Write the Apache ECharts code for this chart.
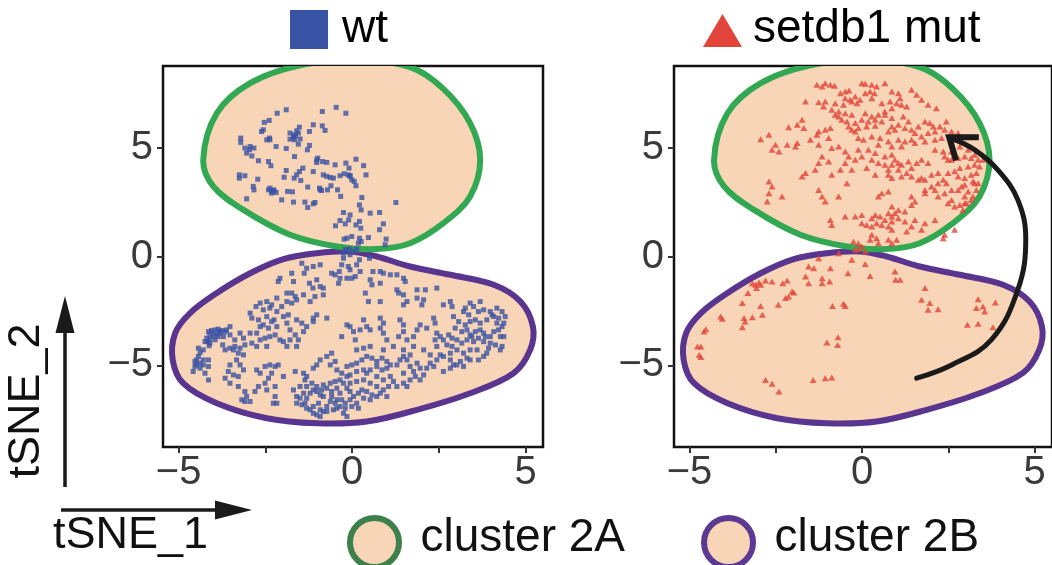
<!DOCTYPE html>
<html><head><meta charset="utf-8">
<script src="https://cdn.jsdelivr.net/npm/echarts@6/dist/echarts.min.js"></script>
<style>html,body{margin:0;padding:0;background:#fff}#c{width:1052px;height:565px}</style>
</head><body><div id="c"></div>
<script>
// ---------- data ----------
const xTickValues = [-5, -2.5, 0, 2.5, 5];
const xLabelValues = [-5, 0, 5];
const yTickValues = [-5, 0, 5];
const panelTitles = ['wt', 'setdb1 mut'];
const clusterNames = ['cluster 2A', 'cluster 2B'];
const axisNames = ['tSNE_1', 'tSNE_2'];

const cluster2A = [[-4.29,4.44],[-3.9,6.58],[-2.94,7.96],[-1.5,8.78],[0.13,9.0],[1.67,8.7],[2.63,7.7],[3.4,6.13],[3.69,4.44],[3.4,2.76],[2.63,1.53],[1.67,0.61],[0.71,0.34],[-0.44,0.46],[-1.79,1.0],[-3.13,2.14],[-4.0,3.22]];
const cluster2B = [[-1.02,0.15],[-0.06,0.23],[0.71,0.0],[1.67,-0.46],[2.83,-0.84],[4.08,-1.3],[4.85,-2.07],[5.21,-3.22],[5.13,-4.29],[4.65,-5.36],[3.4,-6.28],[1.87,-7.04],[0.42,-7.58],[-1.02,-7.66],[-2.46,-7.43],[-3.9,-6.74],[-4.87,-5.82],[-5.17,-4.75],[-5.1,-3.52],[-4.67,-2.6],[-3.9,-1.68],[-2.94,-0.77],[-1.98,-0.12]];

const wtPoints = [
[-0.46,6.85],[-0.18,6.58],[-0.86,6.66],[-1.90,6.74],[-2.16,6.58],[-2.39,6.25],[-2.53,6.16],[-2.61,5.74],[-2.46,5.36],[-2.38,5.44],[-3.21,5.44],[-3.21,5.24],[-2.96,4.90],[-3.04,4.75],[-2.89,4.62],[-2.83,4.98],[-1.52,5.94],[-1.60,5.77],[-1.69,5.59],[-1.79,5.39],[-1.66,5.36],[-1.55,5.16],[-1.50,5.40],[-1.23,5.74],[-1.12,6.05],[-0.86,6.00],[-0.78,5.79],[-2.19,5.05],[-1.90,4.96],[-1.29,4.90],[-1.23,5.10],[-1.66,4.59],[-2.70,4.40],[-2.41,4.36],[-2.34,4.17],[-3.25,3.75],[-3.25,3.60],[-3.09,3.71],[-2.72,3.55],[-0.99,4.52],[-1.02,4.32],[-0.85,4.36],[-0.73,4.32],[-0.49,4.21],[-0.18,4.29],[-0.09,4.06],[0.11,4.47],[0.33,4.17],[0.40,3.75],[-1.90,3.95],[-1.96,3.64],[-1.67,3.60],[-1.60,3.75],[-1.52,3.90],[-1.42,4.06],[-1.48,3.49],[-1.12,3.90],[-0.83,3.75],[-0.73,3.68],[-0.63,3.63],[-0.54,3.60],[-0.35,3.71],[-0.23,3.80],[-0.06,3.71],[-0.01,3.52],[0.06,3.45],[0.11,3.25],[-2.85,3.22],[-2.83,3.06],[-2.37,3.14],[-2.27,3.06],[-2.19,2.94],[-2.32,2.99],[-1.86,2.99],[-1.72,2.97],[-2.03,2.60],[-1.69,2.50],[-3.04,2.65],[-1.28,3.19],[-0.94,3.14],[-0.88,3.03],[-0.71,3.06],[-0.61,3.25],[-0.42,3.06],[-0.33,2.76],[0.28,2.71],[-1.36,2.50],[-1.28,2.25],[-1.12,2.42],[-1.07,2.48],[0.21,2.37],[0.26,2.14],[0.52,1.99],[0.79,2.02],[1.26,2.48],[-0.25,2.02],[-0.06,1.91],[-0.10,1.68],[-0.35,1.65],[-0.48,1.41],[-0.20,1.50],[0.11,1.45],[0.21,1.61],[0.25,1.30],[0.90,1.50],[0.79,1.23],[-0.01,0.92],[-0.15,0.84],[-0.23,0.80],[0.21,0.84],[0.26,0.69],[0.18,0.61],[0.47,0.87],[0.98,0.80],[0.95,0.54],[-0.20,0.31],[-0.06,0.35],[0.04,0.23],[0.13,0.34],[-0.25,0.15],
[-2.56,5.82],[-2.94,5.05],[-3.09,4.98],[-2.37,5.36],[-1.79,5.67],[-1.69,5.48],[-1.63,5.54],[-1.55,5.67],[-2.41,3.06],[-2.32,2.91],[-2.25,3.03],[-1.02,4.44],[-0.92,3.06],[-0.06,3.68],[-0.11,3.75],
[-0.15,0.31],[-0.06,0.08],[-0.25,-0.08],[0.21,-0.15],[0.13,-0.38],[-0.30,-0.38],[-0.11,-0.46],[-0.06,-0.61],[-0.37,-0.69],[0.50,-0.08],[0.23,-0.69],
[-1.45,-0.31],[-1.31,-0.54],[-0.92,-0.38],[-1.12,-0.46],[-1.38,-0.77],[-1.74,-0.77],[-2.08,-1.00],[-2.13,-1.15],[-1.69,-1.15],[-1.23,-1.23],[-1.02,-1.07],[-0.59,-0.77],[-0.49,-0.84],[-0.35,-1.00],[-0.15,-1.00],[-0.01,-1.00],[-0.39,-1.23],[0.09,-0.92],[0.60,-0.69],[0.81,-0.69],[0.90,-0.77],[1.10,-0.84],[1.29,-0.84],[1.48,-1.00],[1.53,-1.15],[0.52,-1.07],[0.57,-1.30],[0.81,-1.23],
[-1.88,-1.68],[-1.74,-1.68],[-1.64,-1.84],[-1.40,-1.76],[-1.13,-1.45],[-0.92,-1.38],[-0.83,-1.45],[-0.83,-1.76],[-1.07,-1.84],[-1.21,-2.07],[-2.17,-1.91],[-1.88,-2.07],[-1.74,-2.14],[-1.60,-1.99],
[0.38,-1.68],[0.47,-2.07],[0.81,-2.07],[1.29,-1.53],[1.34,-1.68],[1.48,-1.76],[1.87,-1.53],[2.11,-1.53],[2.44,-1.45],[1.87,-1.91],[2.06,-1.99],[2.01,-2.22],[1.58,-2.07],[1.48,-2.22],
[2.83,-2.07],[2.88,-2.30],[2.63,-2.22],[3.40,-2.14],[3.69,-2.07],[3.50,-2.30],[3.26,-2.37],[3.21,-2.53],[3.36,-2.68],[3.64,-2.53],[3.79,-2.45],[3.98,-2.53],[4.17,-2.37],[4.32,-2.53],[4.41,-2.76],[4.08,-2.76],[4.17,-3.06],[4.32,-3.22],
[-2.77,-2.30],[-2.56,-2.45],[-2.37,-2.37],[-2.17,-2.53],[-2.03,-2.30],[-2.94,-2.60],[-2.89,-2.83],[-2.70,-2.91],[-2.56,-3.14],[-2.46,-2.76],[-2.25,-2.91],[-2.17,-3.22],[-1.98,-2.76],[-1.84,-2.68],[-1.88,-3.06],[-1.60,-2.91],[-1.45,-3.06],[-1.31,-3.22],[-1.40,-3.45],[-1.12,-2.83],[-1.02,-2.68],[-0.73,-2.83],[-1.12,-2.99],
[-2.65,-2.14],[-2.46,-2.07],[-2.32,-2.22],[-2.65,-3.22],[-2.41,-3.29],[-2.32,-2.99],[-1.79,-3.37],[-1.64,-3.60],[-1.55,-3.83],[-1.79,-3.83],[-1.60,-4.13],
[-3.52,-3.22],[-3.62,-3.37],[-3.81,-3.45],[-4.00,-3.52],[-4.10,-3.60],[-4.19,-3.75],[-4.24,-3.91],[-4.10,-3.98],[-3.95,-3.83],[-3.86,-3.68],[-3.71,-3.68],[-3.52,-3.60],[-3.38,-3.83],[-3.23,-3.52],[-3.13,-3.75],[-2.94,-3.52],[-2.75,-3.52],[-2.65,-3.83],[-2.51,-3.75],[-2.37,-3.68],[-2.22,-3.60],[-2.08,-3.83],[-1.98,-3.91],[-1.88,-4.13],[-2.46,-4.13],[-2.75,-4.13],[-2.89,-3.98],[-3.09,-4.06],[-3.23,-4.21],[-3.38,-4.13],[-3.52,-4.21],[-3.66,-4.29],[-3.73,-4.06],[-4.43,-4.21],
[-4.14,-3.45],[-4.05,-3.40],[-3.95,-3.37],[-3.86,-3.34],[-3.76,-3.40],[-3.66,-3.46],[-3.90,-3.57],[-3.81,-3.52],[-4.00,-3.68],[-4.10,-3.80],[-4.17,-3.91],[-4.12,-4.10],[-4.29,-4.29],[-4.38,-4.41],[-4.43,-4.59],[-4.53,-4.82],[-4.48,-4.98],[-4.38,-4.90],[-4.29,-4.98],
[-0.15,-3.14],[-0.06,-3.22],[0.33,-2.91],[0.23,-3.37],[0.04,-3.45],[-0.30,-3.68],[0.42,-3.22],[0.52,-3.37],[0.09,-3.83],[0.81,-2.83],[0.90,-3.06],[0.81,-3.29],[0.90,-3.52],[1.00,-3.83],[1.38,-2.91],[1.48,-3.14],[1.48,-3.45],[1.34,-3.68],[1.58,-3.83],[1.77,-3.68],[1.87,-3.37],[1.96,-3.14],[2.15,-3.29],[2.35,-2.83],[2.39,-3.06],
[2.44,-3.52],[2.39,-3.83],[2.54,-3.68],[2.63,-3.83],[2.78,-3.60],[2.88,-3.75],[2.73,-4.06],[2.88,-4.13],[3.02,-3.83],[3.16,-3.98],[3.31,-3.83],[3.40,-3.60],[3.55,-3.45],[3.69,-3.37],[3.79,-3.52],[3.98,-3.68],[4.27,-3.68],[4.37,-3.68],[3.50,-3.91],[3.79,-3.91],[3.98,-3.98],[4.32,-4.13],[2.44,-4.13],[2.54,-4.52],[2.83,-4.44],[3.02,-4.29],[3.21,-4.44],[3.40,-4.29],[3.60,-4.29],[3.88,-4.44],[3.31,-4.67],
[2.92,-2.76],[3.07,-2.99],[3.26,-3.14],[3.40,-2.99],[3.55,-2.91],[3.69,-3.06],[3.88,-2.91],[4.03,-2.68],[4.22,-2.83],[4.37,-3.06],[2.97,-3.29],[3.16,-3.45],[3.31,-3.37],[3.45,-3.68],[3.64,-3.75],[3.84,-3.68],[4.08,-3.45],[4.22,-3.37],[3.93,-4.21],[4.13,-4.06],[4.27,-4.29],[3.12,-4.82],[2.92,-4.98],[3.21,-5.05],[3.40,-4.75],[3.64,-4.75],[3.79,-4.59],
[0.13,-4.29],[0.33,-4.21],[0.52,-4.13],[0.90,-4.29],[1.19,-4.13],[1.48,-4.29],[1.77,-4.13],[2.06,-4.29],[2.25,-4.52],[2.44,-4.75],[2.63,-4.59],[2.25,-4.90],[0.42,-5.36],[0.71,-5.51],[1.48,-5.36],[1.77,-5.28],
[-4.48,-4.75],[-4.53,-5.05],[-4.58,-5.28],[-4.38,-5.13],[-4.29,-4.75],[-4.14,-4.75],[-4.14,-5.05],[-4.24,-5.36],[-4.14,-5.67],
[-3.42,-4.29],[-3.28,-4.44],[-3.13,-4.52],[-3.33,-4.75],[-3.23,-4.98],[-3.13,-5.21],[-3.52,-4.98],[-3.57,-5.28],[-3.42,-5.44],[-3.28,-5.51],[-3.66,-5.59],[-3.52,-5.82],[-3.28,-5.97],[-3.09,-6.20],[-3.04,-6.43],[-3.18,-6.58],[-3.09,-6.66],[-2.94,-6.66],
[-2.75,-5.21],[-2.65,-5.36],[-2.51,-5.05],[-2.37,-4.98],[-2.22,-5.05],[-2.13,-4.98],[-2.32,-5.36],[-2.41,-5.59],[-2.51,-5.82],[-2.70,-5.97],[-2.80,-6.20],[-2.46,-6.13],[-2.22,-5.97],[-2.22,-6.43],[-2.27,-6.74],[-2.17,-6.74],[-1.98,-5.51],
[-1.64,-5.28],[-1.40,-5.36],[-1.31,-5.51],[-1.36,-5.67],[-1.12,-5.13],[-1.02,-4.98],[-0.92,-4.75],[-0.73,-4.59],[-0.59,-4.44],[-0.63,-4.98],[-0.49,-4.82],[-0.44,-5.21],[-0.30,-5.36],[-0.15,-5.05],[-0.01,-4.98],[0.13,-4.90],[0.28,-4.75],[0.42,-4.59],[0.57,-4.67],[0.71,-4.82],[0.86,-4.67],[1.00,-4.82],[1.10,-4.98],[1.00,-5.13],[0.86,-5.21],[0.71,-5.05],[0.52,-5.21],[0.33,-5.21],[0.13,-5.28],[-0.06,-5.44],[-0.15,-5.51],
[1.29,-4.98],[1.38,-4.75],[1.48,-4.59],[1.67,-4.52],[1.58,-4.75],[1.67,-5.05],[1.87,-4.90],[1.96,-5.13],[2.15,-5.13],[2.35,-5.05],[2.63,-5.28],[2.83,-5.13],[3.02,-4.98],[2.83,-4.75],
[1.10,-5.51],[0.90,-5.67],[1.19,-5.74],[1.05,-5.97],[1.29,-5.97],[1.48,-5.82],[1.58,-5.97],[1.67,-5.67],[1.82,-5.51],[1.96,-5.67],[2.06,-5.44],
[-1.69,-6.13],[-1.60,-6.43],[-1.40,-6.28],[-1.31,-6.51],[-1.21,-6.28],[-1.12,-6.13],[-1.02,-5.97],[-0.83,-5.90],[-0.63,-5.82],[-0.49,-5.74],[-0.35,-5.67],[-0.25,-5.82],[-0.15,-6.05],[-0.06,-6.20],[0.04,-6.43],[0.18,-6.28],[0.28,-6.13],[0.42,-6.20],[0.57,-6.36],[0.71,-6.43],[0.81,-6.28],[0.33,-6.51],[0.13,-6.74],[-0.06,-6.58],[-0.20,-6.74],[-0.30,-6.58],
[-1.50,-5.97],[-1.31,-5.97],[-1.16,-5.82],[-1.02,-6.20],[-0.88,-6.13],[-0.73,-6.05],[-0.59,-6.20],[-0.44,-6.05],[-0.35,-6.28],[-0.59,-6.43],[-0.44,-6.58],[-0.35,-6.89],[-0.73,-7.12],[-0.92,-7.04],[-1.12,-6.89],[-1.36,-6.74],[-1.50,-6.51],[-0.06,-5.82],[0.13,-5.74],[0.33,-5.67],[0.52,-5.82],[0.71,-5.97],[0.90,-6.13],[1.00,-6.43],[0.52,-6.58],[0.18,-6.97],[-0.01,-6.89],[-0.15,-7.35],
[-1.60,-6.74],[-1.45,-6.81],[-1.31,-6.97],[-1.21,-7.04],[-1.12,-7.20],[-1.02,-7.27],[-0.92,-7.35],[-0.83,-7.12],[-0.73,-6.89],[-0.63,-6.66],[-0.83,-6.43],[-0.92,-6.36],[-0.97,-6.74],[-0.54,-7.04],[-0.44,-6.97],[-0.49,-6.74],[-0.25,-7.20],[-0.20,-6.97]
];

const mutPoints = [
[-1.31,7.89],[-1.16,7.81],[-1.07,7.96],[-0.92,7.89],[-0.80,7.84],[-0.63,7.50],[-0.49,7.58],[-0.38,7.63],[-0.01,7.96],[0.09,7.93],[0.28,7.89],[0.42,7.81],[0.66,7.96],[0.23,7.58],[0.36,7.50],[0.28,7.27],[0.86,7.58],[1.05,7.50],[1.43,7.66],[1.58,7.43],[1.72,7.20],[1.91,6.97],[2.15,6.81],
[-1.64,7.12],[-1.26,7.08],[-1.07,7.12],[-0.78,7.04],[-0.54,6.97],[-0.30,7.12],[-0.15,7.04],[-1.12,6.89],[-0.88,6.74],[-0.68,6.66],[-0.49,6.58],[-0.30,6.51],[-0.78,6.51],
[0.57,7.04],[0.81,7.12],[1.00,7.04],[1.10,7.27],[1.14,6.97],[0.86,6.81],[0.66,6.66],[1.29,6.89],[0.09,6.58],[0.28,6.43],[0.47,6.51],[0.66,6.51],[0.86,6.36],[1.19,6.43],[0.38,6.28],[0.57,6.20],
[-0.49,7.27],[-0.35,7.20],[-0.20,7.35],[-0.06,7.20],[0.09,7.50],[-0.68,6.43],[-0.59,6.28],[-0.44,6.20],[-0.20,6.13],[-0.01,6.28],[0.18,6.20],[0.86,5.97],[1.05,6.05],[1.34,6.20],[1.53,5.67],[1.72,5.51],[1.91,5.67],[2.11,5.74],[2.25,5.97],[2.68,5.36],[2.83,5.05],[3.07,4.90],[3.26,4.67],[3.40,4.13],[3.31,3.83],[3.21,3.45],[2.97,3.29],[2.78,3.06],[2.97,2.45],[3.21,2.76],[3.36,3.37],[2.59,4.82],[2.49,4.44],[0.86,4.21],[1.05,4.29],[0.66,4.21],[0.47,4.29],[0.28,4.44],[-0.01,4.59],[-0.20,4.44],[-0.49,4.29],[0.86,2.30],[1.05,2.14],[0.28,1.76],[-0.01,1.53],
[-1.74,6.28],[-1.88,6.05],[-2.13,5.94],[-1.69,5.90],[-1.26,5.74],[-1.07,5.82],[-0.92,5.90],[-0.39,5.97],[-0.30,5.82],[-0.20,5.74],[-0.11,5.90],[0.13,5.97],[0.38,6.00],[0.76,5.74],[0.95,5.82],[1.24,5.90],[1.43,5.82],[1.63,5.97],[1.82,6.20],[1.96,6.13],[2.06,5.97],[2.44,6.20],[2.39,5.82],[2.59,5.74],[2.78,5.67],[2.30,5.44],
[-2.94,5.39],[-2.70,5.59],[-2.51,5.13],[-2.61,4.90],[-2.41,4.82],[-2.17,5.13],[-1.88,5.21],[-1.93,5.05],[-1.50,5.36],[-1.31,5.59],[-1.26,5.13],[-0.97,5.44],[-0.88,4.98],[-0.68,5.05],[-0.49,4.82],[-0.39,4.59],
[-0.11,5.44],[0.04,5.36],[0.28,5.51],[0.52,5.44],[0.76,5.28],[1.05,5.36],[1.24,5.28],[1.43,5.36],[1.53,5.21],[1.82,5.28],[2.11,5.36],[0.47,5.13],[0.86,5.05],[1.14,5.05],
[-0.11,4.90],[0.18,4.90],[0.38,4.75],[0.66,4.59],[0.86,4.67],[0.95,4.44],[1.14,4.21],[1.34,4.36],[1.58,4.29],[1.72,4.44],[1.91,4.29],[1.43,4.06],[1.05,3.98],[0.76,3.98],
[2.11,4.90],[2.35,4.82],[2.39,4.59],[2.59,4.44],[2.78,4.52],[2.97,4.59],[3.16,4.52],[3.36,4.44],[3.50,4.44],[3.26,4.21],[3.07,4.13],[2.83,4.06],[2.68,3.91],[2.49,3.83],
[-1.16,4.59],[-0.97,4.36],[-1.26,4.29],[-1.36,3.98],[-1.64,3.83],[-1.74,3.68],[-0.88,3.75],[-0.63,3.98],[-0.30,3.98],[0.13,4.06],[0.38,3.75],[0.76,3.75],[0.86,3.60],[1.14,3.68],[1.29,3.83],[1.43,3.68],[1.63,3.52],[1.72,3.60],[1.82,3.52],[2.01,3.75],[2.20,3.83],[2.35,3.52],[2.20,3.37],[2.01,3.22],[1.82,3.06],
[-2.70,3.45],[-2.61,3.22],[-2.70,2.91],[-2.75,2.53],[-2.32,2.76],[-1.26,3.06],[-1.16,2.76],[-1.07,2.53],[-0.68,2.76],[-0.44,3.37],[0.47,2.76],[0.57,2.91],[0.76,2.99],[1.43,2.76],[1.53,2.53],[1.43,2.37],
[2.44,3.37],[2.59,3.06],[2.39,2.91],[2.20,2.76],[2.11,3.06],[2.78,3.68],[2.97,3.60],[3.16,3.75],[3.26,3.37],[2.88,3.22],[3.07,2.99],[3.31,3.06],[2.97,2.76],[3.16,2.60],[3.02,2.45],[2.83,2.37],[2.68,2.30],[2.49,2.45],[2.92,2.14],[2.59,2.60],[1.82,2.91],
[-0.92,1.68],[-0.88,1.45],[-0.49,1.84],[-0.20,1.84],[-0.01,1.91],[0.38,1.91],[0.52,1.84],[0.76,1.99],[0.86,1.84],[0.95,1.99],[1.24,2.07],[1.05,1.76],[0.86,1.61],[0.66,1.68],[0.57,1.45],[0.42,1.53],[0.28,1.38],[0.13,1.45],[0.76,1.38],[0.86,1.23],[1.24,1.61],[1.53,1.68],[1.82,1.53],[2.11,1.68],[1.72,1.23],[1.43,1.38],[1.29,1.15],
[-0.25,0.69],[-0.11,0.61],[-0.01,0.46],[0.23,0.77],[0.47,0.61],[0.28,1.00],[0.42,0.84],[0.76,0.77],[1.00,0.77],[2.39,1.00],[2.68,1.23],[2.35,0.84],[-0.20,0.31],[-0.11,0.34],[0.09,0.23],[0.86,0.61],
[-0.68,0.15],[-0.30,-0.15],[0.09,-0.34],[-1.26,-0.08],[-1.55,-0.46],[-1.40,-0.54],[-1.64,-0.92],[-1.55,-1.23],[-1.16,-1.00],[-1.16,-1.23],[-0.92,-0.54],[-0.94,-1.15],[-0.41,-0.77],[0.23,-0.89],[0.95,-0.69],[0.97,-1.07],[1.10,-1.07],
[-3.18,-1.23],[-3.09,-1.30],[-2.99,-1.19],[-2.94,-1.30],[-2.80,-1.10],[-3.06,-1.45],[-2.61,-1.15],[-2.30,-1.23],[-2.17,-1.10],[-2.03,-1.61],[-1.98,-1.65],[-2.22,-1.91],[-2.13,-1.84],[-3.31,-1.68],[-3.47,-2.14],[-2.94,-2.27],[-2.43,-2.22],[-2.89,-2.68],[-3.18,-2.79],[-3.42,-2.83],[-3.39,-2.99],[-3.47,-3.25],[-4.10,-2.76],[-4.05,-2.86],[-4.53,-3.34],[-4.58,-3.45],[-4.77,-4.13],[-4.67,-4.13],[-4.72,-4.52],[-4.67,-4.62],
[-0.86,-2.27],[-0.54,-2.17],[-0.49,-2.27],[-1.02,-3.95],[-0.70,-3.71],[-0.71,-4.06],[-2.80,-5.67],[-2.61,-5.85],[-2.41,-6.20],[-1.42,-5.67],[-1.07,-5.59],[-0.88,-5.56],
[1.82,-1.45],[1.72,-1.99],[1.96,-2.14],[1.91,-2.45],[2.20,-2.42],[3.36,-1.96],[3.31,-2.37],[3.50,-2.30],[3.55,-2.53],[3.86,-2.11],[3.05,-3.14],[3.36,-3.09],[3.79,-3.25]
];

const arrowPath = [[1.58,-5.59],[2.59,-4.98],[3.74,-3.83],[4.51,-1.53],[4.74,0.80],[4.51,2.60],[3.93,3.98],[3.26,4.90],[2.56,5.45]];
const arrowHead = [[3.38,5.48],[2.52,5.48],[2.72,4.42]];

// ---------- style ----------
const FONT = "'Liberation Sans', Arial, Helvetica, sans-serif";
const PEACH = '#f7d5b6';
const GREEN = '#33a852';
const PURPLE = '#5a3590';
const BLUE = '#3953a4';
const RED = '#e2433b';

function fmt(v) { return v < 0 ? '\u2212' + Math.abs(v) : String(v); }

function xAxisFor(gi) {
  return {
    type: 'value', gridIndex: gi, min: -5.45, max: 5.5,
    axisLine: { show: false, onZero: false }, splitLine: { show: false },
    axisTick: { show: true, length: 6, customValues: xTickValues, lineStyle: { color: '#333', width: 2 } },
    axisLabel: { customValues: xLabelValues, formatter: fmt, fontSize: 40, fontFamily: FONT, color: '#3a3a3a', margin: 6 }
  };
}
function yAxisFor(gi) {
  return {
    type: 'value', gridIndex: gi, min: -8.75, max: 8.75,
    axisLine: { show: false, onZero: false }, splitLine: { show: false },
    axisTick: { show: true, length: 6, customValues: yTickValues, lineStyle: { color: '#333', width: 2 } },
    axisLabel: { customValues: yTickValues, formatter: fmt, fontSize: 40, fontFamily: FONT, color: '#3a3a3a', margin: 10 }
  };
}
function outline(name, pts, stroke, gi) {
  return {
    type: 'custom', name: name, xAxisIndex: gi, yAxisIndex: gi, clip: true, z: 1, silent: true,
    data: pts,
    renderItem: function (params, api) {
      if (params.dataIndex !== 0) return null;
      const p = pts.map(d => api.coord(d));
      return { type: 'polygon', shape: { points: p, smooth: 0.35 }, style: { fill: PEACH, stroke: stroke, lineWidth: 6 } };
    }
  };
}

const chart = echarts.init(document.getElementById('c'), null, { renderer: 'canvas' });
chart.setOption({
  animation: false,
  textStyle: { fontFamily: FONT },
  grid: [
    { left: 163, top: 66, width: 380, height: 381, show: true, borderColor: '#111', borderWidth: 2.5, backgroundColor: 'transparent' },
    { left: 674, top: 66, width: 380, height: 381, show: true, borderColor: '#111', borderWidth: 2.5, backgroundColor: 'transparent' }
  ],
  xAxis: [xAxisFor(0), xAxisFor(1)],
  yAxis: [yAxisFor(0), yAxisFor(1)],
  legend: {
    selectedMode: false, left: 342, top: 510, itemWidth: 52, itemHeight: 49, itemGap: 76, icon: 'circle',
    formatter: function (name) { return '{t|' + name + '}'; },
    textStyle: { fontSize: 46, color: '#111', fontFamily: FONT,
      rich: { t: { fontSize: 46, color: '#111', fontFamily: FONT, padding: [0, 0, 9, 15] } } },
    data: [
      { name: clusterNames[0], itemStyle: { color: PEACH, borderColor: '#3d8049', borderWidth: 6 } },
      { name: clusterNames[1], itemStyle: { color: PEACH, borderColor: '#5c3a93', borderWidth: 6 } }
    ]
  },
  series: [
    outline(clusterNames[1], cluster2B, PURPLE, 0),
    outline(clusterNames[0], cluster2A, GREEN, 0),
    outline(clusterNames[1], cluster2B, PURPLE, 1),
    outline(clusterNames[0], cluster2A, GREEN, 1),
    { type: 'scatter', name: panelTitles[0], xAxisIndex: 0, yAxisIndex: 0, data: wtPoints, symbol: 'rect', symbolSize: 5, itemStyle: { color: BLUE }, z: 3, silent: true },
    { type: 'scatter', name: panelTitles[1], xAxisIndex: 1, yAxisIndex: 1, data: mutPoints, symbol: 'triangle', symbolSize: [7, 6], itemStyle: { color: RED }, z: 3, silent: true },
    {
      type: 'custom', name: 'arrow', xAxisIndex: 1, yAxisIndex: 1, clip: true, z: 4, silent: true, data: arrowPath,
      renderItem: function (params, api) {
        if (params.dataIndex !== 0) return null;
        return {
          type: 'group', children: [
            { type: 'polyline', shape: { points: arrowPath.map(d => api.coord(d)), smooth: 0.4 }, style: { stroke: '#1a1a1a', lineWidth: 5, fill: null, lineCap: 'round' } },
            { type: 'polyline', shape: { points: arrowHead.map(d => api.coord(d)) }, style: { stroke: '#1a1a1a', lineWidth: 6, fill: null, lineJoin: 'miter' } }
          ]
        };
      }
    }
  ],
  graphic: [
    { type: 'rect', shape: { x: 290, y: 10, width: 38, height: 39 }, style: { fill: BLUE } },
    { type: 'text', x: 342, y: 29, style: { text: panelTitles[0], fontSize: 46, fontFamily: FONT, fill: '#000', verticalAlign: 'middle' } },
    { type: 'polygon', shape: { points: [[703, 47], [742, 47], [722.5, 14]] }, style: { fill: RED } },
    { type: 'text', x: 753, y: 29, style: { text: panelTitles[1], fontSize: 46, fontFamily: FONT, fill: '#000', verticalAlign: 'middle' } },
    { type: 'line', shape: { x1: 65, y1: 487, x2: 65, y2: 328 }, style: { stroke: '#1a1a1a', lineWidth: 3.5 } },
    { type: 'polygon', shape: { points: [[55.5, 333], [74.5, 333], [65, 296]] }, style: { fill: '#1a1a1a' } },
    { type: 'line', shape: { x1: 61, y1: 510, x2: 220, y2: 510 }, style: { stroke: '#1a1a1a', lineWidth: 3.5 } },
    { type: 'polygon', shape: { points: [[215, 500.5], [215, 519.5], [252, 510]] }, style: { fill: '#1a1a1a' } },
    { type: 'text', x: 53, y: 536, style: { text: axisNames[0], fontSize: 45, fontFamily: FONT, fill: '#111', verticalAlign: 'middle' } },
    { type: 'text', x: 27, y: 401, rotation: Math.PI / 2, style: { text: axisNames[1], fontSize: 45, fontFamily: FONT, fill: '#111', align: 'center', verticalAlign: 'middle' } }
  ]
});
</script>
</body></html>
